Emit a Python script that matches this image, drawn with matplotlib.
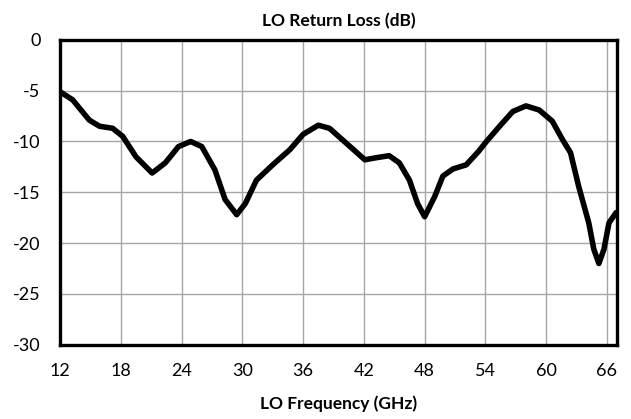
import matplotlib.pyplot as plt

# LO return loss
freq_ghz = [12.0, 13.25, 14.9, 15.9, 17.2, 18.2, 19.5, 21.1, 22.4, 23.7, 24.9, 26.0,
            27.3, 28.3, 29.45, 30.3, 31.4, 33.0, 34.7, 36.0, 37.5, 38.6, 40.3,
            42.1, 43.2, 44.5, 45.5, 46.5, 47.3, 48.0, 49.0, 49.8, 50.8, 52.1,
            53.3, 54.1, 55.4, 56.7, 58.0, 59.3, 60.6, 61.6, 62.4, 63.2, 64.2,
            64.7, 65.2, 65.7, 66.2, 66.9]
return_loss_db = [-5.1, -5.9, -7.9, -8.5, -8.7, -9.5, -11.5, -13.1, -12.1, -10.5, -10.0, -10.5,
                  -12.8, -15.7, -17.2, -16.1, -13.8, -12.3, -10.8, -9.3, -8.4, -8.7, -10.2,
                  -11.8, -11.6, -11.4, -12.1, -13.8, -16.1, -17.4, -15.4, -13.4, -12.7, -12.3,
                  -11.0, -10.0, -8.5, -7.05, -6.5, -6.9, -8.0, -9.8, -11.1, -14.4, -18.0,
                  -20.6, -22.0, -20.6, -18.0, -17.0]

x_ticks = list(range(12, 67, 6))
y_ticks = list(range(-30, 1, 5))

plt.rcParams['font.family'] = ['Lato', 'DejaVu Sans']
plt.rcParams['axes.unicode_minus'] = False  # plain hyphen like the original

fig = plt.figure(figsize=(6.31, 4.19), dpi=100)
ax = fig.add_axes([0.095, 0.177, 0.883, 0.728])

ax.plot(freq_ghz, return_loss_db, color='black', linewidth=4.0,
        solid_joinstyle='round', solid_capstyle='round', zorder=3)

ax.set_xlim(12, 67)
ax.set_ylim(-30, 0)
ax.set_xticks(x_ticks)
ax.set_yticks(y_ticks)
ax.grid(True, color='#a6a6a6', linewidth=1.0)
ax.tick_params(length=0, labelsize=13)
ax.tick_params(axis='x', pad=13)
ax.tick_params(axis='y', pad=14)

for s in ax.spines.values():
    s.set_linewidth(2.4)
    s.set_color('black')

ax.set_title('LO Return Loss (dB)', fontsize=12.5, fontweight='bold', pad=10)
ax.set_xlabel('LO Frequency (GHz)', fontsize=12.5, fontweight='bold', labelpad=12)

fig.savefig('out.png', dpi=100)
